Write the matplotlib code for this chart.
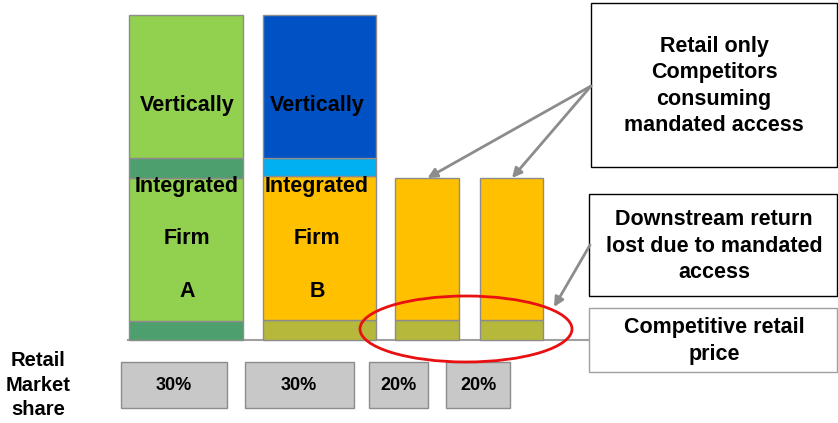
"""
Vertically integrated firms vs retail-only competitors under mandated access
"""
import matplotlib
matplotlib.use('Agg')
import matplotlib.pyplot as plt
from matplotlib.patches import Rectangle, Ellipse

plt.rcParams['font.family'] = ['Liberation Sans', 'DejaVu Sans']

# ============================================================================
# DATA (heights in diagram units, baseline = competitive retail price)
# ============================================================================
firms = ['A', 'B', 'C', 'D']
market_share = [30, 30, 20, 20]
share_labels = [f'{s}%' for s in market_share]

lost_return = [19, 20, 20, 20]        # bottom band
retail_margin = [143, 144, 142, 142]  # main body
wholesale_band = [20, 18, 0, 0]       # thin band
upstream = [143, 143, 0, 0]           # top block

# ============================================================================
# STYLE / LAYOUT
# ============================================================================
bar_x = [186, 319, 426.5, 511]
bar_w = [114, 113, 64, 63]
share_x = [174, 299, 398.5, 478]
share_w = [106, 109, 59, 64]

col_bottom = ['#4E9F6E', '#B5B83A', '#B5B83A', '#B5B83A']
col_body = ['#92D050', '#FFC000', '#FFC000', '#FFC000']
col_band = ['#4E9F6E', '#00B0F0', '#FFC000', '#FFC000']
col_top = ['#92D050', '#0052C4', '#FFC000', '#FFC000']
EDGE = '#8C8C8C'
FS = 15.5
LS = 1.32

fig = plt.figure(figsize=(8.38, 4.23), dpi=100)
ax = fig.add_axes([0, 0, 1, 1])
ax.set_xlim(0, 838)
ax.set_ylim(-83, 340)
ax.axis('off')

# baseline (competitive retail price)
ax.plot([128, 590], [0, 0], color='#A0A0A0', lw=1.5, zorder=1)

bottom = [0, 0, 0, 0]
for layer, cols in [(lost_return, col_bottom), (retail_margin, col_body),
                    (wholesale_band, col_band), (upstream, col_top)]:
    for i in range(len(firms)):
        if layer[i] > 0:
            ax.bar(bar_x[i], layer[i], width=bar_w[i], bottom=bottom[i],
                   color=cols[i], edgecolor=EDGE, linewidth=1, zorder=2)
        bottom[i] += layer[i]

# labels inside integrated firms
for i in range(2):
    x = bar_x[i] + (1 if i == 0 else -2)
    for y, txt in [(235, 'Vertically'), (154, 'Integrated'), (102, 'Firm'),
                   (49, firms[i])]:
        ax.text(x, y, txt, ha='center', va='center',
                fontsize=FS, fontweight='bold', zorder=3)

# market share boxes
for i in range(len(firms)):
    ax.add_patch(Rectangle((share_x[i] - share_w[i] / 2, -68), share_w[i], 46,
                           facecolor='#C8C8C8', edgecolor=EDGE, lw=1))
    ax.text(share_x[i], -45, share_labels[i], ha='center', va='center',
            fontsize=13, fontweight='bold')

ax.text(38, -45, 'Retail\nMarket\nshare', ha='center', va='center',
        fontsize=14.5, fontweight='bold', linespacing=1.38)

# callout boxes
ax.add_patch(Rectangle((591, 173), 246, 164, facecolor='white',
                       edgecolor='black', lw=1, zorder=2))
ax.text(714, 254, 'Retail only\nCompetitors\nconsuming\nmandated access',
        ha='center', va='center', fontsize=FS, fontweight='bold',
        linespacing=LS, zorder=3)

ax.add_patch(Rectangle((589, 44), 248, 102, facecolor='white',
                       edgecolor='black', lw=1, zorder=2))
ax.text(714, 94, 'Downstream return\nlost due to mandated\naccess',
        ha='center', va='center', fontsize=FS, fontweight='bold',
        linespacing=LS, zorder=3)

ax.add_patch(Rectangle((589, -32), 248, 64, facecolor='white',
                       edgecolor='#A0A0A0', lw=1, zorder=2))
ax.text(714, -1, 'Competitive retail\nprice', ha='center', va='center',
        fontsize=FS, fontweight='bold', linespacing=LS, zorder=3)

# arrows
arrow_kw = dict(arrowstyle='-|>', color=EDGE, lw=2, mutation_scale=14,
                shrinkA=0, shrinkB=0)
for i in (2, 3):
    ax.annotate('', xy=(bar_x[i] + 1, lost_return[i] + retail_margin[i]),
                xytext=(591, 254), arrowprops=arrow_kw, zorder=4)
ax.annotate('', xy=(554, 33), xytext=(590, 95), arrowprops=arrow_kw, zorder=4)

# red ellipse
ax.add_patch(Ellipse((466, 11), 212, 66, fill=False, edgecolor='#E81010',
                     lw=2, zorder=5))

plt.savefig('out.png', dpi=100)
